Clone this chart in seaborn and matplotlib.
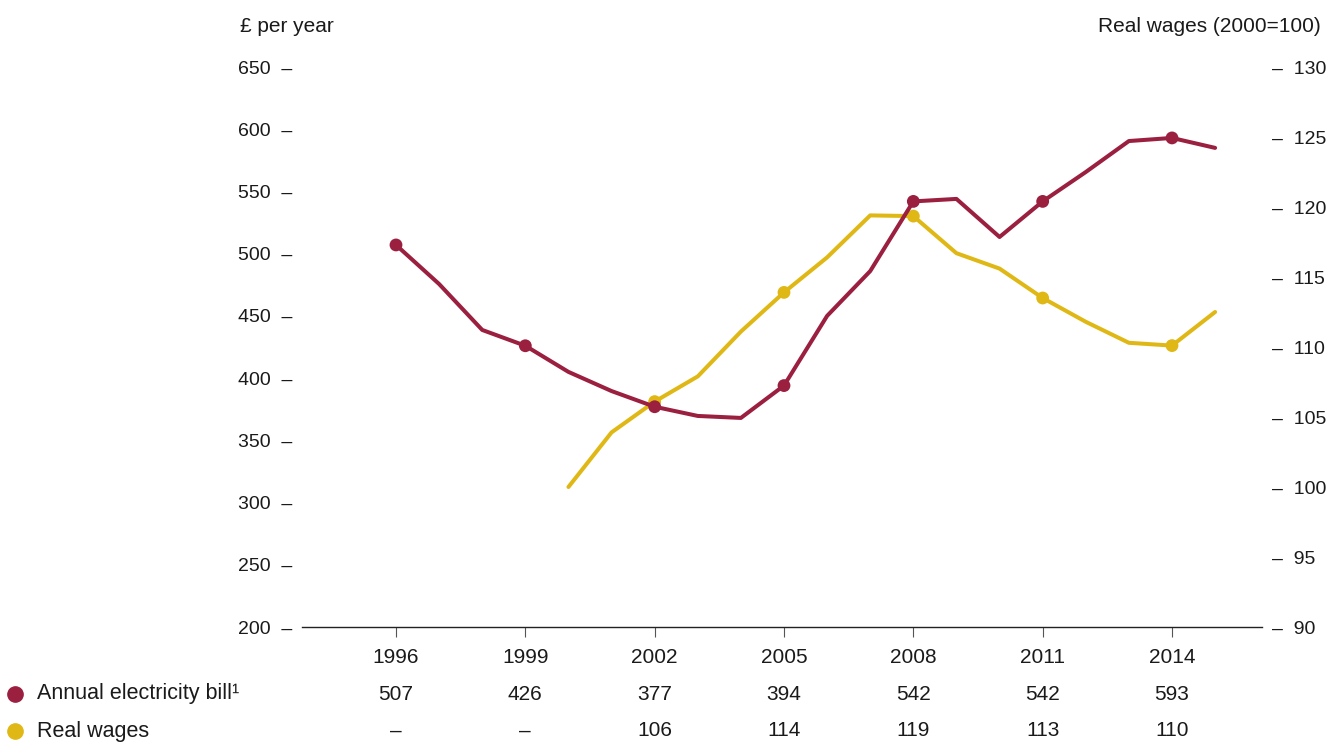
import matplotlib
matplotlib.use("Agg")
import matplotlib.pyplot as plt
import matplotlib.lines as mlines
import seaborn as sns
import pandas as pd

years = list(range(1996, 2016))
bill = [507, 475.6, 438.7, 426, 405, 389.6, 377, 369.6, 368, 394,
        450, 486, 542, 544, 513.4, 542, 565.6, 590.5, 593, 585]
wage_years = list(range(2000, 2016))
wages = [100, 103.9, 106.1, 107.9, 111.1, 113.9, 116.4, 119.4, 119.35,
         116.7, 115.6, 113.5, 111.8, 110.3, 110.1, 112.5]

tick_years = [1996, 1999, 2002, 2005, 2008, 2011, 2014]
table_bill = ["507", "426", "377", "394", "542", "542", "593"]
table_wages = ["–", "–", "106", "114", "119", "113", "110"]
left_ticks = [200, 250, 300, 350, 400, 450, 500, 550, 600, 650]
right_ticks = [90, 95, 100, 105, 110, 115, 120, 125, 130]

RED = "#9B1F3F"
YEL = "#E0B816"
TXT = "#1a1a1a"

sns.set_theme(style="white")
plt.rcParams["font.family"] = ["Liberation Sans", "DejaVu Sans"]

df_b = pd.DataFrame({"year": years, "v": bill})
df_w = pd.DataFrame({"year": wage_years, "v": wages})

fig = plt.figure(figsize=(13.36, 7.43), dpi=100)
W, H = 1336, 743
x0, x1, y_top, y_bot = 302, 1262, 67, 627
ax = fig.add_axes([x0 / W, 1 - y_bot / H, (x1 - x0) / W, (y_bot - y_top) / H])
ax2 = ax.twinx()

px_per_year = (1172 - 396) / 18
xmin = 1996 - (396 - x0) / px_per_year
xmax = 2014 + (x1 - 1172) / px_per_year

sns.lineplot(data=df_w, x="year", y="v", ax=ax2, color=YEL, linewidth=2.9)
sns.scatterplot(data=df_w[df_w["year"].isin(tick_years)], x="year", y="v", ax=ax2,
                color=YEL, s=85, edgecolor="none", zorder=3)
sns.lineplot(data=df_b, x="year", y="v", ax=ax, color=RED, linewidth=2.9)
sns.scatterplot(data=df_b[df_b["year"].isin(tick_years)], x="year", y="v", ax=ax,
                color=RED, s=85, edgecolor="none", zorder=3)

ax.set_zorder(ax2.get_zorder() + 1)
ax.patch.set_visible(False)

for a in (ax, ax2):
    a.set_xlim(xmin, xmax)
    a.set_xlabel("")
    a.set_ylabel("")
    for s in ("top", "left", "right"):
        a.spines[s].set_visible(False)
ax2.spines["bottom"].set_visible(False)
ax.spines["bottom"].set_color("#222222")
ax.spines["bottom"].set_linewidth(1.0)

ax.set_ylim(200, 650)
ax2.set_ylim(90, 130)

ax.set_yticks(left_ticks)
ax.set_yticklabels([f"{v}  –" for v in left_ticks], fontsize=14, color=TXT)
ax2.set_yticks(right_ticks)
ax2.set_yticklabels([f"–  {v}" for v in right_ticks], fontsize=14, color=TXT)
ax.tick_params(axis="y", length=0, pad=7)
ax2.tick_params(axis="y", length=0, pad=7)

ax.set_xticks(tick_years)
ax.set_xticklabels([str(y) for y in tick_years], fontsize=15, color=TXT)
ax.tick_params(axis="x", direction="out", length=7, width=0.8, color="#555555",
               pad=8, bottom=True)
ax2.tick_params(axis="x", bottom=False, labelbottom=False)

fig.text(240 / W, 1 - 26 / H, "£ per year", fontsize=15, va="center", ha="left",
         color=TXT)
fig.text(1321 / W, 1 - 26 / H, "Real wages (2000=100)", fontsize=15, va="center",
         ha="right", color=TXT)

for yr, b, w in zip(tick_years, table_bill, table_wages):
    xf = (x0 + (yr - xmin) * px_per_year) / W
    fig.text(xf, 1 - 694 / H, b, fontsize=15, ha="center", va="center", color=TXT)
    fig.text(xf, 1 - 731 / H, w, fontsize=15, ha="center", va="center", color=TXT)

fig.text(37 / W, 1 - 694 / H, "Annual electricity bill¹", fontsize=15.5, ha="left",
         va="center", color=TXT)
fig.text(37 / W, 1 - 731 / H, "Real wages", fontsize=15.5, ha="left", va="center",
         color=TXT)
fig.lines.extend([
    mlines.Line2D([15 / W], [1 - 694 / H], marker="o", markersize=11,
                  color=RED, transform=fig.transFigure, linestyle="none"),
    mlines.Line2D([15 / W], [1 - 731 / H], marker="o", markersize=11,
                  color=YEL, transform=fig.transFigure, linestyle="none"),
])

fig.savefig("out.png", dpi=100)
